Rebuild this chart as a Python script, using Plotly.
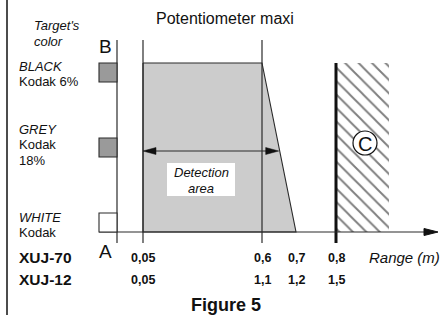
import numpy as np
import plotly.graph_objects as go

# ---------------- data ----------------
target_names = ["BLACK", "GREY", "WHITE"]
target_kodak = [["Kodak 6%"], ["Kodak", "18%"], ["Kodak"]]
swatch_colors = ["#9a9a9a", "#9a9a9a", "#ffffff"]

models = ["XUJ-70", "XUJ-12"]
xuj70_ticks = [0.05, 0.6, 0.7, 0.8]
xuj70_labels = ["0,05", "0,6", "0,7", "0,8"]
xuj12_labels = ["0,05", "1,1", "1,2", "1,5"]

detect_min = 0.05      # start of detection area
detect_black = 0.6     # max range on black target
detect_white = 0.7     # max range on white target
blind_start = 0.8      # zone C starts here

# ---------------- layout anchors (schematic axis, pixel units) ----------------
W, H = 446, 315
TICK_PX = [143, 262, 296, 336]          # schematic positions of the XUJ-70 ticks
def sx(v):
    return float(np.interp(v, xuj70_ticks, TICK_PX))

Y_TOP, Y_BOT = 63, 232                  # B (black) level and A (white) level
SW_Y = [63, 138, 213]                   # swatch tops
SW_H = 19
AX_X = 117
FONT = "Liberation Sans, Arial, Helvetica, sans-serif"
LC = "#2a2a2a"

fig = go.Figure()
shapes = []
ann = []

def line(x0, y0, x1, y1, w=1.2, c=LC):
    shapes.append(dict(type="line", x0=x0, y0=y0, x1=x1, y1=y1, xref="x", yref="y",
                       line=dict(color=c, width=w)))

def text(t, x, y, size=13, xa="left", italic=False, bold=False):
    if bold:
        t = "<b>" + t + "</b>"
    if italic:
        t = "<i>" + t + "</i>"
    ann.append(dict(text=t, x=x, y=y, xref="x", yref="y", xanchor=xa, yanchor="middle",
                    showarrow=False, font=dict(family=FONT, size=size, color="#111")))

# detection area polygon (gray)
poly_x = [sx(detect_min), sx(detect_black), sx(detect_white), sx(detect_min), sx(detect_min)]
poly_y = [Y_TOP, Y_TOP, Y_BOT, Y_BOT, Y_TOP]
fig.add_trace(go.Scatter(x=poly_x, y=poly_y, mode="lines", fill="toself",
                         fillcolor="#cccccc", line=dict(color=LC, width=1.1),
                         hoverinfo="skip", showlegend=False))

# zone C hatch
x0c = sx(blind_start)
x1c = x0c + 53
fig.add_trace(go.Scatter(x=[x0c, x1c, x1c, x0c, x0c], y=[Y_TOP, Y_TOP, Y_BOT, Y_BOT, Y_TOP],
                         mode="lines", fill="toself", fillcolor="white",
                         fillpattern=dict(shape="\\", fgcolor="#000", bgcolor="white",
                                          size=9.5, solidity=0.2),
                         line=dict(width=0, color="rgba(0,0,0,0)"),
                         hoverinfo="skip", showlegend=False))

# left border
line(7, 0, 7, H, w=1.5, c="#111")

# vertical lines
line(AX_X, 40, AX_X, 243)
line(sx(detect_min), 40, sx(detect_min), 243)
line(sx(detect_black), 40, sx(detect_black), 243)
line(sx(blind_start), Y_TOP, sx(blind_start), 243, w=3, c="#111")

# horizontal axis with arrow
line(99, Y_BOT, 428, Y_BOT)
shapes.append(dict(type="path", path=f"M 424 228.5 L 438 {Y_BOT} L 424 235.5 Z",
                   xref="x", yref="y", fillcolor="#111", line=dict(color="#111", width=1)))

# swatches
for yt, col in zip(SW_Y, swatch_colors):
    shapes.append(dict(type="rect", x0=99, x1=AX_X, y0=yt, y1=yt + SW_H, xref="x", yref="y",
                       fillcolor=col, line=dict(color=LC, width=1.1)))

# detection double arrow
ya = 151
xr = sx(detect_black) + (ya - Y_TOP) / (Y_BOT - Y_TOP) * (sx(detect_white) - sx(detect_black)) - 1
xl = sx(detect_min)
line(xl + 6, ya, xr - 6, ya)
shapes.append(dict(type="path", path=f"M {xl} {ya} L {xl+13} {ya-3.5} L {xl+13} {ya+3.5} Z",
                   xref="x", yref="y", fillcolor="#111", line=dict(color="#111", width=0.5)))
shapes.append(dict(type="path", path=f"M {xr} {ya} L {xr-13} {ya-3.5} L {xr-13} {ya+3.5} Z",
                   xref="x", yref="y", fillcolor="#111", line=dict(color="#111", width=0.5)))

# detection label box
shapes.append(dict(type="rect", x0=167, x1=235, y0=163, y1=196, xref="x", yref="y",
                   fillcolor="white", line=dict(width=0)))
text("Detection", 201, 172, 13, xa="center", italic=True)
text("area", 201, 188, 13, xa="center", italic=True)

# zone C circle
shapes.append(dict(type="circle", x0=353, x1=377, y0=131, y1=155, xref="x", yref="y",
                   fillcolor="white", line=dict(color="#111", width=1.2)))
text("C", 365, 143.5, 20, xa="center")

# texts
text("Potentiometer maxi", 225, 18, 16, xa="center")
text("Target's", 32, 25, 13, italic=True)
text("color", 32, 41, 13, italic=True)
text("B", 105, 46, 19, xa="center")
text("A", 105, 251, 19, xa="center")

name_y = [66, 129, 217]
for nm, kod, yn in zip(target_names, target_kodak, name_y):
    text(nm, 17, yn, 13, italic=True)
    for i, k in enumerate(kod):
        text(k, 17, yn + 15.5 * (i + 1), 13)

row_y = [257, 279]
for m, yy in zip(models, row_y):
    text(m, 17, yy, 15.5, bold=True)
for v, l70, l12 in zip(xuj70_ticks, xuj70_labels, xuj12_labels):
    text(l70, sx(v), row_y[0] + 1, 12.5, xa="center", bold=True)
    text(l12, sx(v), row_y[1] + 1, 12.5, xa="center", bold=True)
text("Range (m)", 367, 257, 15, italic=True)
text("Figure 5", 226, 305, 18, xa="center", bold=True)

fig.update_layout(
    width=W, height=H, margin=dict(l=0, r=0, t=0, b=0),
    paper_bgcolor="white", plot_bgcolor="white",
    xaxis=dict(range=[0, W], visible=False, fixedrange=True),
    yaxis=dict(range=[H, 0], visible=False, fixedrange=True),
    shapes=shapes, annotations=ann, showlegend=False,
)
fig.write_html("out.html", config={"displayModeBar": False},
               post_script="document.body.style.margin='0';document.body.style.overflow='hidden';")
